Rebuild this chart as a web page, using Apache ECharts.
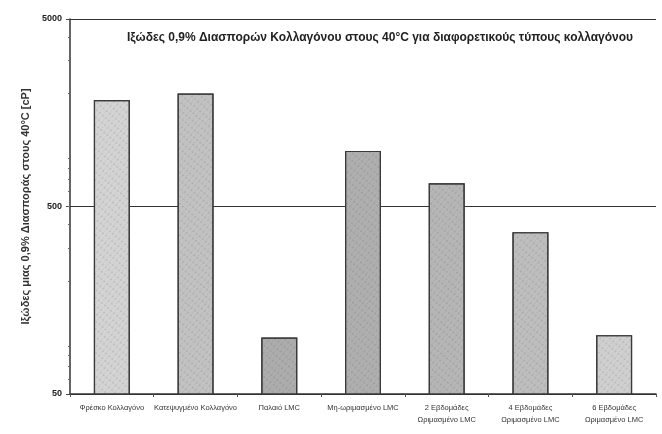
<!DOCTYPE html>
<html>
<head>
<meta charset="utf-8">
<script src="https://cdn.jsdelivr.net/npm/echarts@6/dist/echarts.min.js"></script>
<style>
  html, body { margin: 0; padding: 0; background: #fff; }
  #chart { width: 662px; height: 434px; }
</style>
</head>
<body>
<div id="chart"></div>
<script>
const categories = [
  'Φρέσκο Κολλαγόνο',
  'Κατεψυγμένο Κολλαγόνο',
  'Παλαιό LMC',
  'Μη-ωριμασμένο LMC',
  '2 Εβδομάδες\nΩριμασμένο LMC',
  '4 Εβδομάδες\nΩριμασμένο LMC',
  '6 Εβδομάδες\nΩριμασμένο LMC'
];
const viscosity = [1850, 2000, 100, 990, 665, 365, 103];
const yTicks = [50, 500, 5000];
// ton ana bara (to scan exei diaforetiko "kokko" se kathe mia)
const barShades = ['#d4d4d4', '#c2c2c2', '#adadad', '#afafaf', '#b6b6b6', '#bebebe', '#d0d0d0'];

const chart = echarts.init(document.getElementById('chart'));

const stipple = {
  symbol: 'circle',
  symbolSize: 0.6,
  dashArrayX: [[2, 2], [1, 3]],
  dashArrayY: [2, 1],
  color: 'rgba(60, 60, 60, 0.55)',
  rotation: 0.7
};

chart.setOption({
  backgroundColor: '#ffffff',
  animation: false,
  aria: { enabled: true, decal: { show: true } },
  textStyle: { fontFamily: 'Liberation Sans, Arial, sans-serif' },
  title: {
    text: 'Ιξώδες 0,9% Διασπορών Κολλαγόνου στους 40°C για διαφορετικούς τύπους κολλαγόνου',
    left: 375, top: 27, textAlign: 'center',
    textStyle: { fontSize: 12, fontWeight: 'bold', color: '#222' }
  },
  grid: { left: 70, right: 6, top: 19, bottom: 40 },
  xAxis: {
    type: 'category',
    data: categories,
    axisLine: { lineStyle: { color: '#333', width: 1.5 } },
    axisTick: { show: true, alignWithLabel: false, length: 3, lineStyle: { color: '#555' } },
    axisLabel: { fontSize: 7.5, color: '#333', interval: 0, margin: 8, lineHeight: 12 }
  },
  yAxis: {
    type: 'log',
    logBase: 10,
    min: 50,
    max: 5000,
    name: 'Ιξώδες μιας 0,9% Διασποράς στους 40°C [cP]',
    nameLocation: 'middle',
    nameGap: 37,
    nameTextStyle: { fontSize: 11, fontWeight: 'bold', color: '#333' },
    axisLine: { show: true, lineStyle: { color: '#333', width: 1.5 } },
    axisTick: { show: true, customValues: yTicks, length: 4, lineStyle: { color: '#444' } },
    minorTick: { show: true, splitNumber: 9, length: 2, lineStyle: { color: '#666' } },
    axisLabel: {
      customValues: yTicks,
      formatter: v => String(Math.round(v)),
      fontSize: 9, fontWeight: 'bold', color: '#222', margin: 8
    },
    splitLine: { show: true, lineStyle: { color: '#333', width: 1.2 } }
  },
  series: [{
    type: 'bar',
    barWidth: 36,
    data: viscosity.map((v, i) => ({
      value: v,
      itemStyle: { color: barShades[i], decal: stipple }
    })),
    itemStyle: { borderColor: '#3a3a3a', borderWidth: 1.2 }
  }]
});
</script>
</body>
</html>
